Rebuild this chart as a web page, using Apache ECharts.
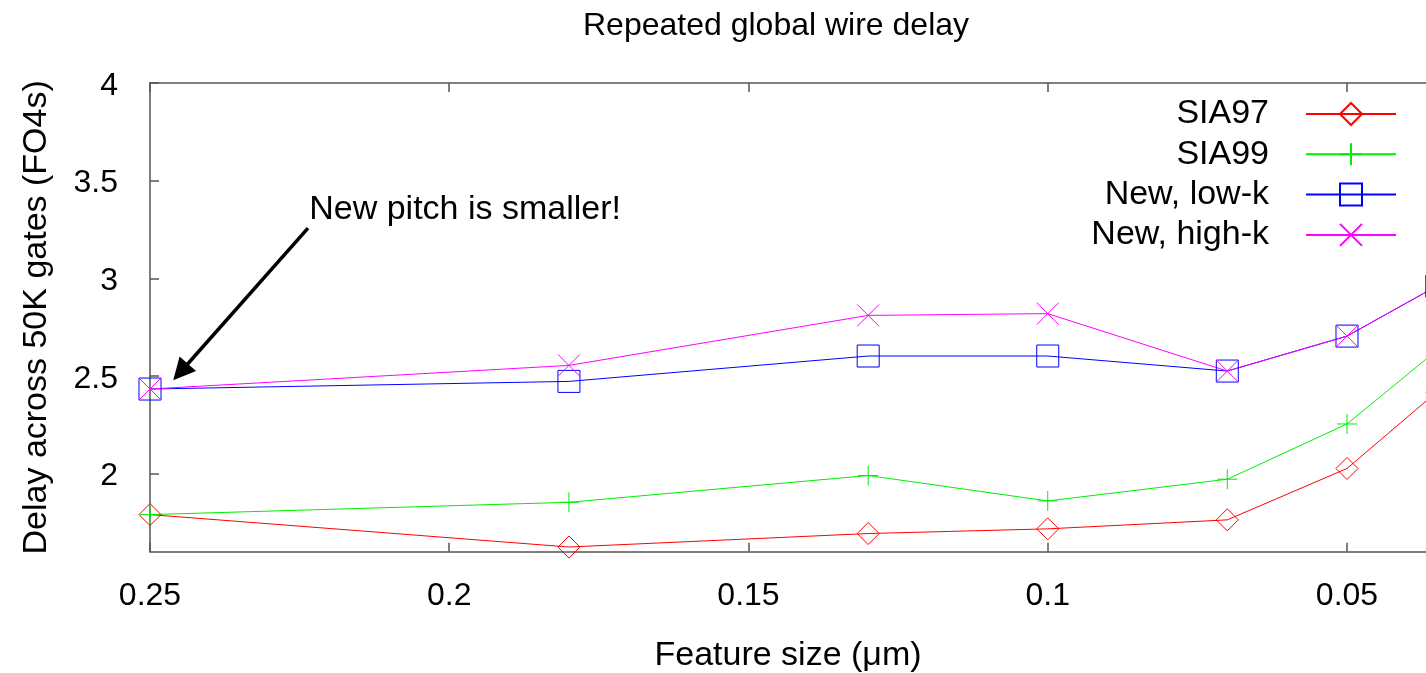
<!DOCTYPE html>
<html>
<head>
<meta charset="utf-8">
<script src="https://cdn.jsdelivr.net/npm/echarts@6/dist/echarts.min.js"></script>
<style>
html,body{margin:0;padding:0;background:#fff;}
#chart{width:1426px;height:673px;}
</style>
</head>
<body>
<div id="chart"></div>
<script>
// ---- data ----
const featureSizes = [0.25, 0.18, 0.13, 0.10, 0.07, 0.05, 0.035];
const sia97 = [1.79, 1.624, 1.693, 1.717, 1.763, 2.026, 2.418];
const sia99 = [1.79, 1.853, 1.99, 1.86, 1.971, 2.254, 2.631];
const newLowK = [2.433, 2.472, 2.602, 2.602, 2.525, 2.704, 2.96];
const newHighK = [2.433, 2.554, 2.81, 2.819, 2.525, 2.704, 2.96];
const seriesNames = ['SIA97', 'SIA99', 'New, low-k', 'New, high-k'];
const xTicks = [0.25, 0.2, 0.15, 0.1, 0.05];
const yTicks = [2, 2.5, 3, 3.5, 4];
const xRange = [0.0368, 0.25];   // visible part of the (cropped) x range
const yRange = [1.6, 4];
const arrowFrom = [0.2236, 3.257];
const arrowTo = [0.2449, 2.52];
const notePos = [0.2234, 3.35];
const noteText = 'New pitch is smaller!';

const FONT = "'Liberation Sans', Arial, sans-serif";
const FS = 32;
const FS_L = 34;
const AXIS_COLOR = '#555';

function pairs(ys) { return featureSizes.map((x, i) => [x, ys[i]]); }

const PLUS = 'path://M0,5L10,5M5,0L5,10';
const CROSS = 'path://M0,0L10,10M0,10L10,0';

function mkSeries(name, ys, color, symbol, size) {
  return {
    name: name,
    type: 'line',
    data: pairs(ys),
    symbol: symbol,
    symbolSize: size,
    showSymbol: true,
    clip: false,
    animation: false,
    lineStyle: { color: color, width: 1 },
    itemStyle: { color: 'transparent', borderColor: color, borderWidth: 1 },
    emphasis: { disabled: true }
  };
}

const series = [
  mkSeries(seriesNames[0], sia97, '#ff0000', 'diamond', 22),
  mkSeries(seriesNames[1], sia99, '#00ee00', PLUS, 20),
  mkSeries(seriesNames[2], newLowK, '#0000ff', 'rect', 22),
  mkSeries(seriesNames[3], newHighK, '#ff00ff', CROSS, 22)
];

series[0].markLine = {
  silent: true,
  animation: false,
  symbol: ['none', 'triangle'],
  symbolSize: [22, 22],
  label: { show: false },
  lineStyle: { color: '#000', width: 3.5, type: 'solid' },
  data: [[{ coord: arrowFrom, symbol: 'none' }, { coord: arrowTo, symbol: 'triangle' }]]
};
series[0].markPoint = {
  silent: true,
  animation: false,
  symbol: 'circle',
  symbolSize: 0,
  label: {
    show: true, position: 'right', distance: 0,
    formatter: noteText, color: '#000', fontSize: FS_L, fontFamily: FONT
  },
  data: [{ coord: notePos }]
};

const option = {
  backgroundColor: '#fff',
  animation: false,
  title: {
    text: 'Repeated global wire delay',
    left: 583, top: 10, padding: 0,
    textStyle: { fontSize: FS, fontWeight: 'normal', color: '#000', fontFamily: FONT }
  },
  legend: {
    orient: 'vertical',
    align: 'right',
    right: 29, top: 97, padding: 0,
    itemWidth: 90, itemHeight: 27.5, itemGap: 6.3,
    selectedMode: false,
    data: seriesNames,
    textStyle: { fontSize: FS_L, color: '#000', fontFamily: FONT, lineHeight: 32, padding: [0, 32, 0, 0] }
  },
  grid: { left: 150, right: 0, top: 83, bottom: 121.3, containLabel: false, outerBoundsMode: 'none' },
  xAxis: [
    {
      type: 'value', min: xRange[0], max: xRange[1], inverse: true, position: 'bottom',
      splitLine: { show: false },
      axisLine: { show: true, onZero: false, lineStyle: { color: AXIS_COLOR, width: 1.5 } },
      axisTick: { show: true, inside: true, length: 9, customValues: xTicks, lineStyle: { color: AXIS_COLOR, width: 1.5 } },
      name: 'Feature size (\u03bcm)', nameLocation: 'middle', nameGap: 87,
      nameTextStyle: { fontSize: FS_L, color: '#000', fontFamily: FONT },
      axisLabel: { show: true, customValues: xTicks, margin: 28, fontSize: FS, color: '#000', fontFamily: FONT,
        formatter: v => String(+v.toFixed(3)) }
    },
    {
      type: 'value', min: xRange[0], max: xRange[1], inverse: true, position: 'top',
      splitLine: { show: false },
      axisLine: { show: true, onZero: false, lineStyle: { color: AXIS_COLOR, width: 1.5 } },
      axisTick: { show: true, inside: true, length: 9, customValues: xTicks, lineStyle: { color: AXIS_COLOR, width: 1.5 } },
      axisLabel: { show: false }
    }
  ],
  yAxis: [
    {
      type: 'value', min: yRange[0], max: yRange[1], position: 'left',
      splitLine: { show: false },
      axisLine: { show: true, onZero: false, lineStyle: { color: AXIS_COLOR, width: 1.5 } },
      axisTick: { show: true, inside: true, length: 9, customValues: yTicks, lineStyle: { color: AXIS_COLOR, width: 1.5 } },
      name: 'Delay across 50K gates (FO4s)', nameLocation: 'middle', nameGap: 96,
      nameTextStyle: { fontSize: FS_L, color: '#000', fontFamily: FONT },
      axisLabel: { show: true, customValues: yTicks, margin: 32, fontSize: FS, color: '#000', fontFamily: FONT,
        verticalAlign: 'top', lineHeight: 6,
        formatter: v => String(+v.toFixed(2)) }
    }
  ],
  series: series
};

const chart = echarts.init(document.getElementById('chart'), null, { renderer: 'canvas' });
chart.setOption(option);
</script>
</body>
</html>
